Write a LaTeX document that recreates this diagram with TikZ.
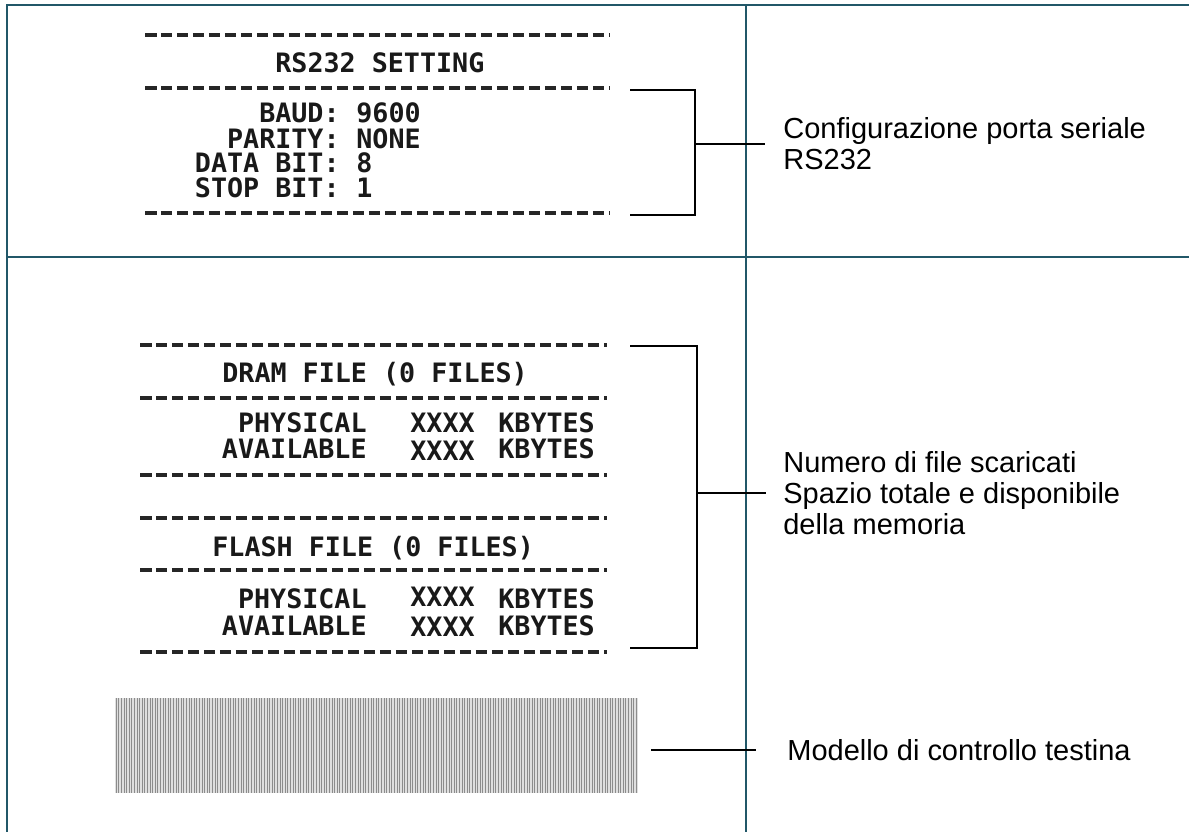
\documentclass[tikz,border=0pt]{standalone}
\usepackage{fontspec}
\setmainfont{Liberation Sans}
\newfontfamily\slipfont{DejaVu Sans Mono}
\definecolor{gridteal}{RGB}{33,87,104}

\begin{document}
\begin{tikzpicture}[
    x=0.02cm, y=-0.02cm,
    slip/.style = {font=\slipfont\bfseries\fontsize{15.2}{16}\selectfont, text=black!90, inner sep=0pt, text height=0.73em, text depth=0pt},
    note/.style = {font=\fontsize{16.5}{17.6}\selectfont, align=left, anchor=west, inner sep=0pt},
    rule/.style = {line width=0.075cm, draw=black!85, dash pattern=on 0.23cm off 0.09cm},
    bracket/.style = {line width=0.04cm, draw=black},
    grid/.style = {line width=0.05cm, draw=gridteal}
    ]
    \useasboundingbox (0,0) rectangle (1189,832);

    % Table lines
    \draw[grid] (1189,5) -- (7,5) -- (7,832);
    \draw[grid] (7,257) -- (1189,257);
    \draw[grid] (746,5) -- (746,832);

    % RS232 slip
    \draw[rule] (145,35) -- (610,35);
    \node[slip, anchor=base west] (rs title) at (275,72) {RS232 SETTING};
    \draw[rule] (145,88) -- (610,88);
    \node[slip, anchor=base east] (rs baud)     at (340,122) {BAUD:};
    \node[slip, anchor=base west] (rs baud v)   at (356,122) {9600};
    \node[slip, anchor=base east] (rs parity)   at (340,148) {PARITY:};
    \node[slip, anchor=base west] (rs parity v) at (356,148) {NONE};
    \node[slip, anchor=base east] (rs data)     at (340,172) {DATA BIT:};
    \node[slip, anchor=base west] (rs data v)   at (356,172) {8};
    \node[slip, anchor=base east] (rs stop)     at (340,197) {STOP BIT:};
    \node[slip, anchor=base west] (rs stop v)   at (356,197) {1};
    \draw[rule] (145,213) -- (610,213);

    % Memory slip
    \draw[rule] (140,345) -- (607,345);
    \node[slip, anchor=base west] (dram title) at (222,382) {DRAM FILE (0 FILES)};
    \draw[rule] (140,398) -- (607,398);
    \node[slip, anchor=base east] (dram phys)    at (367,432) {PHYSICAL};
    \node[slip, anchor=base west] (dram phys x)  at (410,432) {XXXX};
    \node[slip, anchor=base west] (dram phys k)  at (498,432) {KBYTES};
    \node[slip, anchor=base east] (dram avail)   at (367,458) {AVAILABLE};
    \node[slip, anchor=base west] (dram avail x) at (410,460) {XXXX};
    \node[slip, anchor=base west] (dram avail k) at (498,458) {KBYTES};
    \draw[rule] (140,475) -- (607,475);

    \draw[rule] (140,518) -- (607,518);
    \node[slip, anchor=base west] (flash title) at (212,556) {FLASH FILE (0 FILES)};
    \draw[rule] (140,570) -- (607,570);
    \node[slip, anchor=base east] (flash phys)    at (367,608) {PHYSICAL};
    \node[slip, anchor=base west] (flash phys x)  at (410,606) {XXXX};
    \node[slip, anchor=base west] (flash phys k)  at (498,608) {KBYTES};
    \node[slip, anchor=base east] (flash avail)   at (367,635) {AVAILABLE};
    \node[slip, anchor=base west] (flash avail x) at (410,636) {XXXX};
    \node[slip, anchor=base west] (flash avail k) at (498,635) {KBYTES};
    \draw[rule] (140,652) -- (607,652);

    % Head test pattern
    \node[fill=gray!25, inner sep=0pt, minimum width=10.46cm, minimum height=1.9cm] (head test) at (376.5,745.5) {};
    \foreach \x in {116.3,118.9,...,637} {
        \draw[line width=0.022cm, black!45] (\x,698) -- (\x,793);
    }

    % Notes
    \node[note] (cfg note)  at (783,144) {Configurazione porta seriale\\RS232};
    \node[note] (mem note)  at (783,493) {Numero di file scaricati\\Spazio totale e disponibile\\della memoria};
    \node[note] (test note) at (787,750) {Modello di controllo testina};

    % Brackets
    \coordinate (rs top)  at (630,90);
    \coordinate (rs mid)  at (695,144);
    \coordinate (rs bot)  at (630,215);
    \draw[bracket] (rs top) -| (rs mid) |- (rs bot);
    \draw[bracket, shorten >=0.36cm] (rs mid) -- (cfg note.west);

    \coordinate (mem top) at (630,346);
    \coordinate (mem mid) at (697,493);
    \coordinate (mem bot) at (630,648);
    \draw[bracket] (mem top) -| (mem mid) |- (mem bot);
    \draw[bracket, shorten >=0.34cm] (mem mid) -- (mem note.west);

    \coordinate (test mid) at (651,750);
    \draw[bracket, shorten >=0.62cm] (test mid) -- (test note.west);
\end{tikzpicture}
\end{document}
